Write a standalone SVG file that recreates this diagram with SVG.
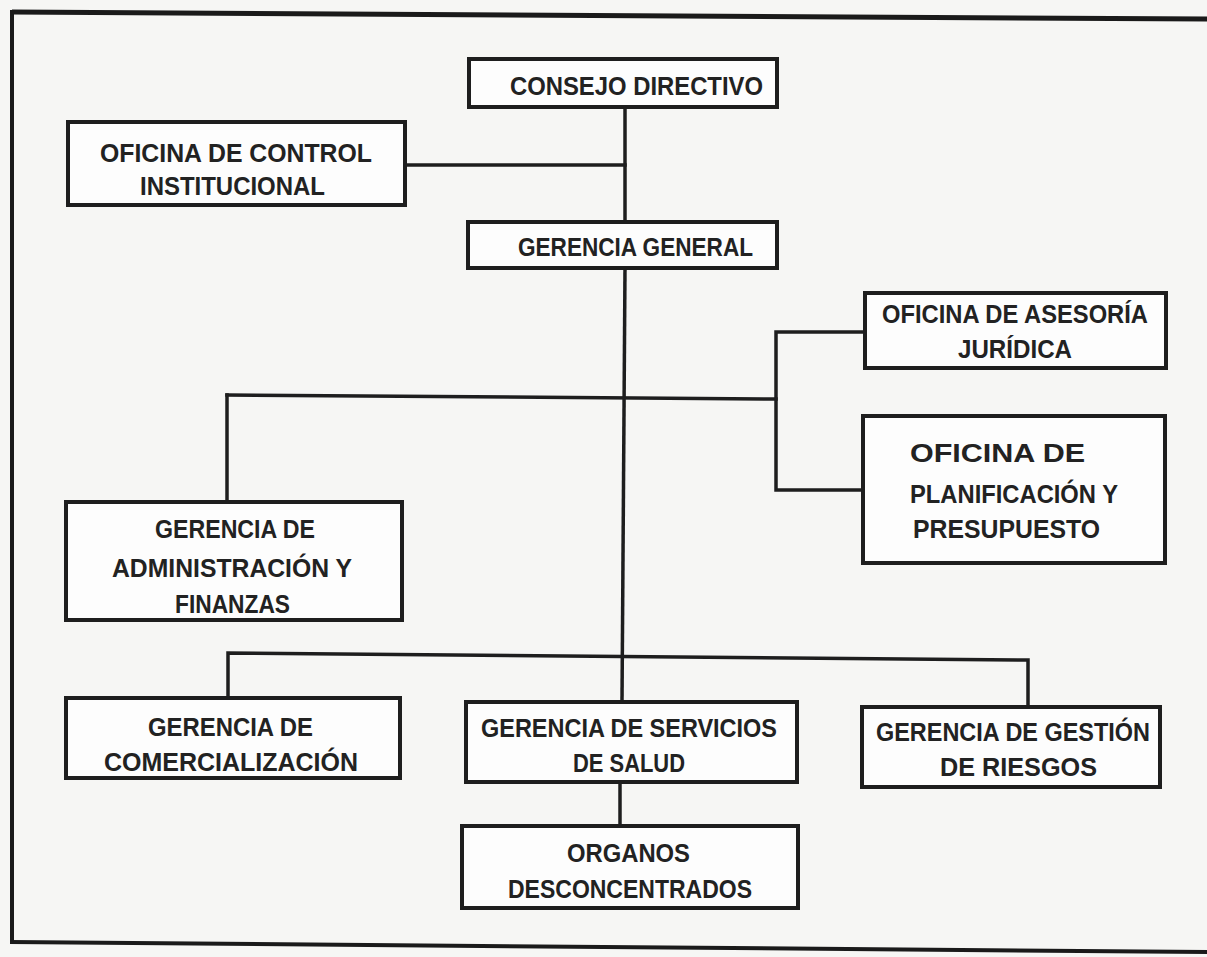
<svg xmlns="http://www.w3.org/2000/svg" width="1207" height="957" viewBox="0 0 1207 957">
<style>
.box{fill:#fdfdfd;stroke:#1e1e1e;stroke-width:4}
.ln{stroke:#1e1e1e;stroke-width:3.5;fill:none;stroke-linecap:square}
.frame{stroke:#1a1a1a;fill:none}
text{font-family:"Liberation Sans",Arial,sans-serif;font-weight:bold;font-size:26px;fill:#222}
</style>
<rect x="0" y="0" width="1207" height="957" fill="#f6f6f4"/>
<g id="frame">
<line class="frame" x1="12" y1="12" x2="1207" y2="19" stroke-width="5"/>
<line class="frame" x1="12" y1="10" x2="12" y2="944" stroke-width="4"/>
<line class="frame" x1="10" y1="942" x2="1207" y2="952" stroke-width="4"/>
</g>
<g id="connectors">
<line class="ln" x1="625" y1="107" x2="625" y2="222"/>
<line class="ln" x1="405" y1="165" x2="625" y2="165"/>
<polyline class="ln" points="625,268 622,702"/>
<line class="ln" x1="227" y1="395" x2="776" y2="399"/>
<line class="ln" x1="227" y1="395" x2="227" y2="502"/>
<polyline class="ln" points="865,332 776,332 776,490 863,490"/>
<polyline class="ln" points="228,698 228,653 1028,660 1028,707"/>
<line class="ln" x1="620" y1="782" x2="620" y2="826"/>
</g>
<g id="consejo">
<rect class="box" x="469" y="59" width="308" height="48"/>
<text x="510" y="95" textLength="253" lengthAdjust="spacingAndGlyphs">CONSEJO DIRECTIVO</text>
</g>
<g id="oci">
<rect class="box" x="68" y="122" width="337" height="83"/>
<text x="100" y="162" textLength="272" lengthAdjust="spacingAndGlyphs">OFICINA DE CONTROL</text>
<text x="140" y="195" textLength="185" lengthAdjust="spacingAndGlyphs">INSTITUCIONAL</text>
</g>
<g id="gerencia-general">
<rect class="box" x="468" y="222" width="309" height="46"/>
<text x="518" y="256" textLength="235" lengthAdjust="spacingAndGlyphs">GERENCIA GENERAL</text>
</g>
<g id="asesoria">
<rect class="box" x="865" y="293" width="301" height="75"/>
<text x="882" y="323" textLength="266" lengthAdjust="spacingAndGlyphs">OFICINA DE ASESORÍA</text>
<text x="958" y="358" textLength="114" lengthAdjust="spacingAndGlyphs">JURÍDICA</text>
</g>
<g id="planificacion">
<rect class="box" x="863" y="416" width="302" height="147"/>
<text x="910" y="462" textLength="175" lengthAdjust="spacingAndGlyphs">OFICINA DE</text>
<text x="910" y="503" textLength="208" lengthAdjust="spacingAndGlyphs">PLANIFICACIÓN Y</text>
<text x="913" y="538" textLength="187" lengthAdjust="spacingAndGlyphs">PRESUPUESTO</text>
</g>
<g id="administracion">
<rect class="box" x="66" y="502" width="336" height="118"/>
<text x="155" y="538" textLength="160" lengthAdjust="spacingAndGlyphs">GERENCIA DE</text>
<text x="112" y="577" textLength="240" lengthAdjust="spacingAndGlyphs">ADMINISTRACIÓN Y</text>
<text x="175" y="613" textLength="115" lengthAdjust="spacingAndGlyphs">FINANZAS</text>
</g>
<g id="comercializacion">
<rect class="box" x="66" y="698" width="334" height="80"/>
<text x="148" y="736" textLength="165" lengthAdjust="spacingAndGlyphs">GERENCIA DE</text>
<text x="104" y="771" textLength="254" lengthAdjust="spacingAndGlyphs">COMERCIALIZACIÓN</text>
</g>
<g id="salud">
<rect class="box" x="466" y="702" width="331" height="80"/>
<text x="481" y="737" textLength="296" lengthAdjust="spacingAndGlyphs">GERENCIA DE SERVICIOS</text>
<text x="573" y="772" textLength="112" lengthAdjust="spacingAndGlyphs">DE SALUD</text>
</g>
<g id="riesgos">
<rect class="box" x="862" y="707" width="298" height="80"/>
<text x="876" y="741" textLength="274" lengthAdjust="spacingAndGlyphs">GERENCIA DE GESTIÓN</text>
<text x="940" y="776" textLength="157" lengthAdjust="spacingAndGlyphs">DE RIESGOS</text>
</g>
<g id="organos">
<rect class="box" x="462" y="826" width="336" height="82"/>
<text x="567" y="862" textLength="123" lengthAdjust="spacingAndGlyphs">ORGANOS</text>
<text x="508" y="898" textLength="244" lengthAdjust="spacingAndGlyphs">DESCONCENTRADOS</text>
</g>
</svg>
